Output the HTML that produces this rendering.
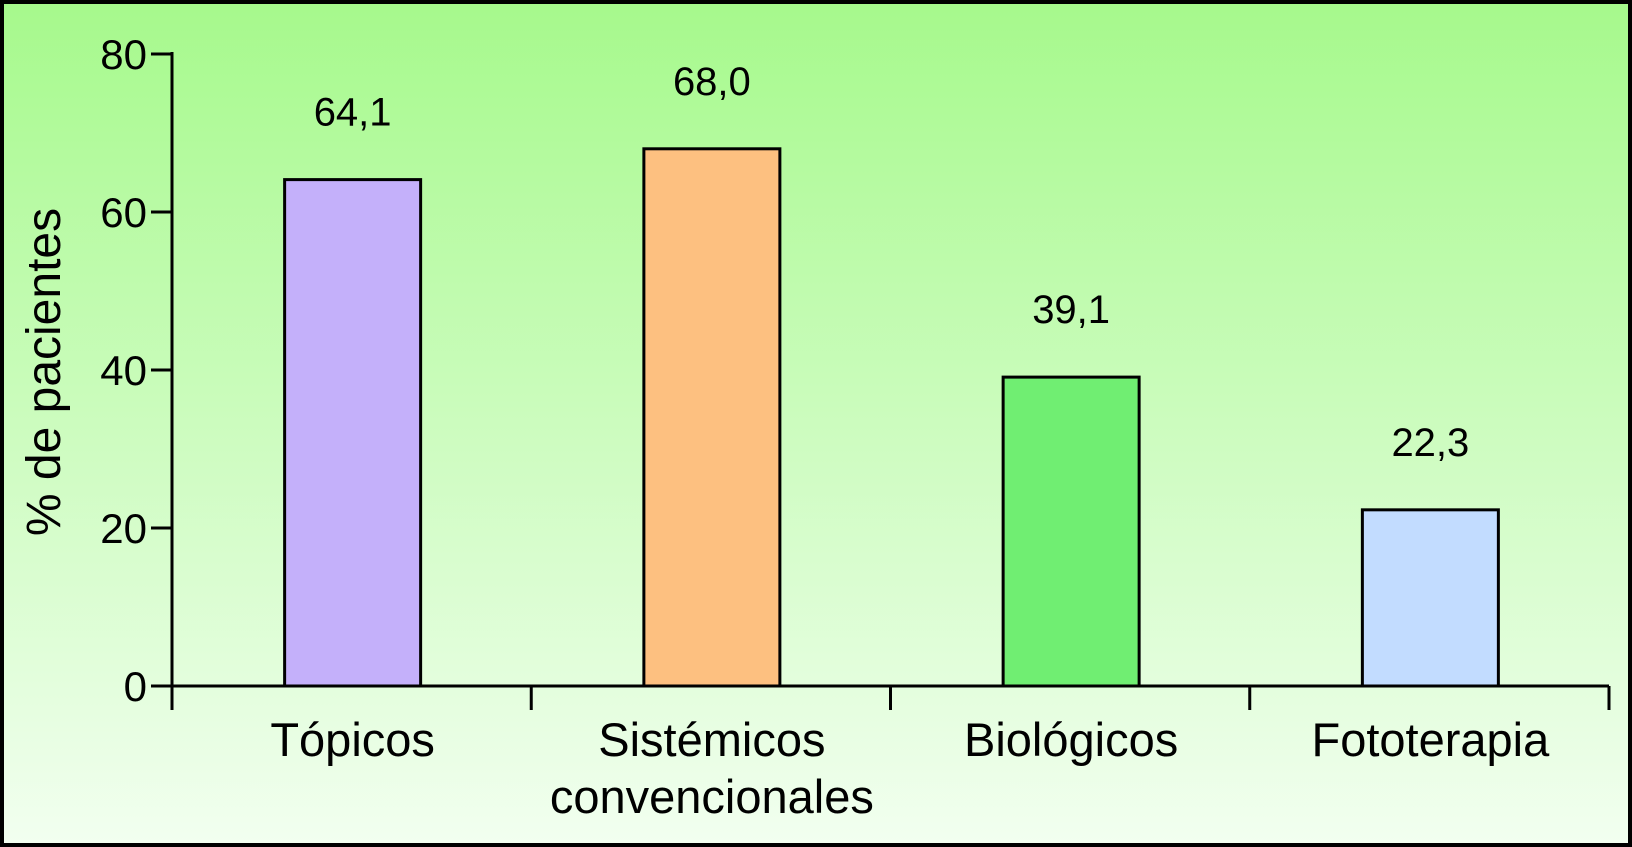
<!DOCTYPE html>
<html><head><meta charset="utf-8"><style>
html,body{margin:0;padding:0;}
body{width:1632px;height:847px;overflow:hidden;font-family:"Liberation Sans",Arial,sans-serif;}
svg{display:block}
</style></head><body>
<svg id="chart" width="1632" height="847" xmlns="http://www.w3.org/2000/svg">
<defs><linearGradient id="bg" x1="0" y1="0" x2="0" y2="1">
<stop offset="0" stop-color="#a6f98c"/><stop offset="1" stop-color="#f2fff0"/></linearGradient></defs>
<rect x="2" y="2" width="1628" height="843" fill="url(#bg)" stroke="#000" stroke-width="4"/>
<g id="plot"></g>
</svg>
<script>
const categories=[["Tópicos"],["Sistémicos","convencionales"],["Biológicos"],["Fototerapia"]];
const values=[64.1,68.0,39.1,22.3];
const valueLabels=["64,1","68,0","39,1","22,3"];
const colors=["#c4b0fa","#fdc080","#70ee72","#c2dcff"];
const yTicks=[0,20,40,60,80];
const NS="http://www.w3.org/2000/svg";
const g=document.getElementById('plot');
const X0=172,X1=1609,Y0=686,Ytop=54,YMAX=80;
const cw=(X1-X0)/categories.length;
function y(v){return Y0-(v/YMAX)*(Y0-Ytop);}
function xc(i){return X0+cw*(i+0.5)+1;}
function mk(t,a,txt){const e=document.createElementNS(NS,t);for(const k in a)e.setAttribute(k,a[k]);if(txt!==undefined)e.textContent=txt;g.appendChild(e);return e;}
const bw=136;
values.forEach((v,i)=>{
 const r=mk('rect',{x:xc(i)-bw/2,y:y(v),width:bw,height:Y0-y(v),fill:colors[i],stroke:'#000','stroke-width':3});
 
 
 const t=mk('text',{x:xc(i),y:y(v)-54,'text-anchor':'middle','font-size':40,fill:'#000'},valueLabels[i]);
 
 
 categories[i].forEach((line,j)=>{
  const c=mk('text',{x:xc(i),y:756+j*57,'text-anchor':'middle','font-size':47,fill:'#000'},line);
  
  
 });
});
yTicks.forEach(v=>{
 const l=mk('line',{x1:151,x2:X0,y1:y(v),y2:y(v),stroke:'#000','stroke-width':3});
 
 
 const t=mk('text',{x:147,y:y(v)+15,'text-anchor':'end','font-size':42,fill:'#000'},String(v));
 
 
});
for(let i=0;i<=categories.length;i++){
 const l=mk('line',{x1:X0+cw*i,x2:X0+cw*i,y1:Y0,y2:710,stroke:'#000','stroke-width':3});
 
 
}
const ya=mk('line',{x1:X0,x2:X0,y1:Ytop-2,y2:710,stroke:'#000','stroke-width':3});


const xa=mk('line',{x1:X0,x2:X1,y1:Y0,y2:Y0,stroke:'#000','stroke-width':3});


const yt=mk('text',{x:0,y:0,transform:'translate(60,372) rotate(-90)','text-anchor':'middle','font-size':48,fill:'#000'},'% de pacientes');


</script>
</body></html>
